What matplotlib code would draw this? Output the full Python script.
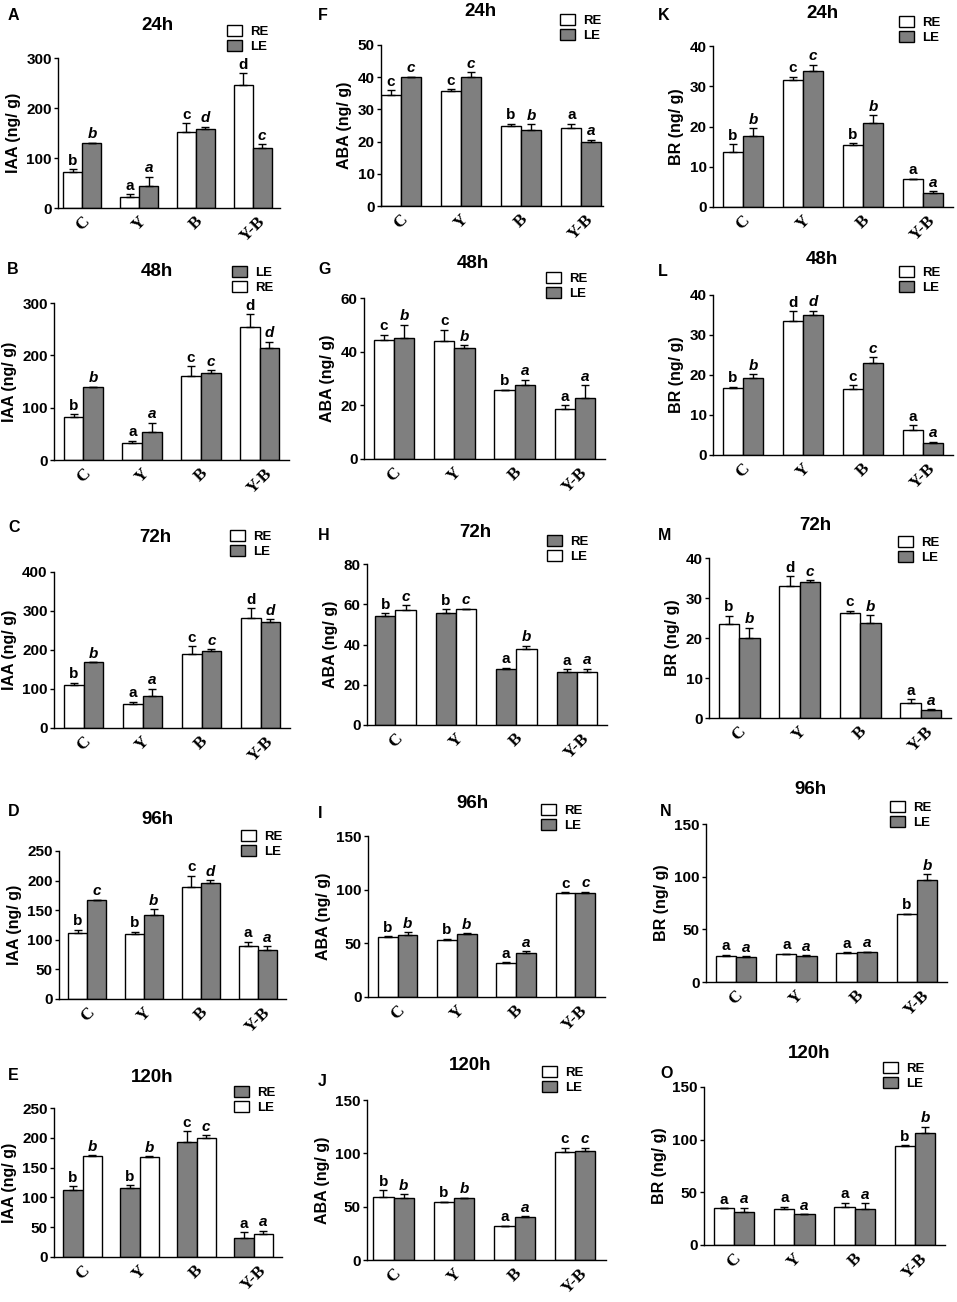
import numpy as np
import matplotlib
matplotlib.use('Agg')
import matplotlib.pyplot as plt

plt.rcParams['font.family'] = ['Liberation Sans', 'DejaVu Sans']
plt.rcParams['font.weight'] = 'bold'

# ---- data (rows: 24h, 48h, 72h, 96h, 120h ; cols: C, Y, B, Y-B)
groups = ['C', 'Y', 'B', 'Y-B']
times = ['24h', '48h', '72h', '96h', '120h']

iaa_re = [[73, 23, 153, 247], [83, 32, 161, 255], [110, 61, 191, 283], [111, 110, 190, 89], [113, 116, 193, 32]]
iaa_re_err = [[5, 5, 17, 23], [5, 5, 18, 24], [6, 6, 18, 24], [6, 4, 18, 8], [6, 4, 18, 10]]
iaa_le = [[130, 45, 159, 121], [139, 54, 167, 214], [168, 82, 197, 273], [167, 142, 196, 83], [170, 168, 200, 39]]
iaa_le_err = [[1, 18, 4, 7], [1, 17, 5, 12], [1, 19, 5, 6], [1, 10, 5, 6], [1, 1, 4, 5]]
iaa_re_let = [['b', 'a', 'c', 'd'], ['b', 'a', 'c', 'd'], ['b', 'a', 'c', 'd'], ['b', 'b', 'c', 'a'], ['b', 'b', 'c', 'a']]
iaa_le_let = [['b', 'a', 'd', 'c'], ['b', 'a', 'c', 'd'], ['b', 'a', 'c', 'd'], ['c', 'b', 'd', 'a'], ['b', 'b', 'c', 'a']]

aba_re = [[34.4, 35.7, 24.9, 24.1], [44.5, 44.1, 25.6, 18.7], [54.1, 55.8, 27.7, 26.3], [55.5, 53.3, 31.3, 97], [59.4, 54.1, 31.9, 101.6]]
aba_re_err = [[1.6, 0.5, 0.7, 1.5], [1.8, 4.1, 0.2, 1.3], [1.4, 1.8, 0.8, 1.3], [1.2, 1.2, 1.2, 0.6], [6.2, 0.6, 0.3, 3.7]]
aba_le = [[40, 40.2, 23.7, 19.8], [45.1, 41.4, 27.5, 22.9], [57.1, 57.5, 37.6, 26.5], [58, 58.6, 41.2, 97], [58.4, 57.8, 40.3, 101.9]]
aba_le_err = [[0.2, 1.4, 1.8, 0.8], [5, 0.9, 2.1, 4.6], [2.5, 0.2, 1.8, 1.5], [2.4, 0.9, 1.3, 1.2], [3.5, 0.5, 0.5, 3.4]]
aba_re_let = [['c', 'c', 'b', 'a'], ['c', 'c', 'b', 'a'], ['b', 'b', 'a', 'a'], ['b', 'b', 'a', 'c'], ['b', 'b', 'a', 'c']]
aba_le_let = [['c', 'c', 'b', 'a'], ['b', 'b', 'a', 'a'], ['c', 'c', 'b', 'a'], ['b', 'b', 'a', 'c'], ['b', 'b', 'a', 'c']]

br_re = [[13.6, 31.5, 15.3, 6.9], [16.7, 33.6, 16.4, 6.25], [23.6, 32.9, 26.3, 3.7], [24.6, 26.5, 27.8, 64.4], [34.7, 34.1, 36, 93.8]]
br_re_err = [[2, 0.9, 0.6, 0.1], [0.4, 2.4, 1, 1.2], [2, 2.5, 0.5, 1], [1.3, 0.5, 0.3, 0.6], [0.5, 2.2, 4.1, 1.2]]
br_le = [[17.7, 33.9, 20.8, 3.5], [19.2, 35.1, 22.9, 3], [20.1, 33.9, 23.7, 2], [23.7, 24.9, 28.1, 97.3], [31.6, 29.1, 34.4, 106.7]]
br_le_err = [[1.9, 1.5, 2, 0.5], [1, 1, 1.5, 0.3], [2.5, 0.5, 2, 0.2], [0.6, 0.3, 0.6, 5], [3.8, 0.3, 5.1, 5.7]]
br_re_let = [['b', 'c', 'b', 'a'], ['b', 'd', 'c', 'a'], ['b', 'd', 'c', 'a'], ['a', 'a', 'a', 'b'], ['a', 'a', 'a', 'b']]
br_le_let = [['b', 'c', 'b', 'a'], ['b', 'd', 'c', 'a'], ['b', 'c', 'b', 'a'], ['a', 'a', 'a', 'b'], ['a', 'a', 'a', 'b']]

ylabels = ['IAA (ng/ g)', 'ABA (ng/ g)', 'BR (ng/ g)']
panel_letters = ['ABCDE', 'FGHIJ', 'KLMNO']

# ---- layout (pixels in a 957x1302 figure)
W, H = 957, 1302
WHITE = 'white'
GRAY = '#7f7f7f'

# axes rect: left x, right x, top tick y, zero y
rects = {
    'A': (58, 280, 58, 208), 'B': (54, 289, 303, 460), 'C': (54, 290, 572, 728),
    'D': (59, 286, 851, 999), 'E': (54, 282, 1108, 1257),
    'F': (381, 603, 45, 206), 'G': (364, 605, 298, 459), 'H': (367, 607, 564, 725),
    'I': (368, 605, 836, 997), 'J': (367, 606, 1100, 1260),
    'K': (713, 953, 46, 207), 'L': (713, 953, 295, 455), 'M': (709, 951, 558, 718),
    'N': (706, 947, 824, 982), 'O': (704, 945, 1087, 1245),
}
xlims = {'A': (-0.43, 3.48), 'F': (-0.33, 3.36), 'H': (-0.47, 3.5), 'J': (-0.44, 3.51)}
ymax = {'A': 300, 'B': 300, 'C': 400, 'D': 250, 'E': 250,
        'F': 50, 'G': 60, 'H': 80, 'I': 150, 'J': 150,
        'K': 40, 'L': 40, 'M': 40, 'N': 150, 'O': 150}
ystep = {'A': 100, 'B': 100, 'C': 100, 'D': 50, 'E': 50,
         'F': 10, 'G': 20, 'H': 20, 'I': 50, 'J': 50,
         'K': 10, 'L': 10, 'M': 10, 'N': 50, 'O': 50}
titles_xy = {'A': (157, 25), 'B': (157, 272), 'C': (155, 538), 'D': (157, 819), 'E': (152, 1077),
             'F': (480, 12), 'G': (473, 263), 'H': (475, 532), 'I': (472, 804), 'J': (470, 1065),
             'K': (822, 13), 'L': (822, 260), 'M': (815, 525), 'N': (810, 790), 'O': (809, 1054)}
letters_xy = {'A': (8, 15), 'B': (7, 270), 'C': (8, 527), 'D': (8, 812), 'E': (8, 1075),
              'F': (318, 16), 'G': (318, 270), 'H': (318, 535), 'I': (318, 813), 'J': (318, 1082),
              'K': (658, 16), 'L': (658, 272), 'M': (658, 535), 'N': (660, 812), 'O': (660, 1073)}
legend_xy = {'A': (227, 25), 'B': (232, 266), 'C': (230, 530), 'D': (241, 830), 'E': (234, 1086),
             'F': (560, 14), 'G': (546, 272), 'H': (547, 535), 'I': (541, 804), 'J': (542, 1066),
             'K': (899, 16), 'L': (899, 266), 'M': (898, 536), 'N': (890, 801), 'O': (883, 1062)}
swapped = {'E', 'H'}      # RE gray / LE white
le_first = {'B'}          # legend lists LE first


def fx(px):
    return px / W


def fy(py):
    return 1 - py / H


def draw_panel(ax, key, re, re_err, le, le_err, re_let, le_let, ylabel):
    x = np.arange(len(groups))
    w = 0.335
    c_re, c_le = (GRAY, WHITE) if key in swapped else (WHITE, GRAY)
    b_re = ax.bar(x - w / 2, re, w, color=c_re, edgecolor='black', linewidth=1, label='RE', zorder=2)
    b_le = ax.bar(x + w / 2, le, w, color=c_le, edgecolor='black', linewidth=1, label='LE', zorder=2)
    ax.errorbar(x - w / 2, re, yerr=[np.zeros(4), re_err], fmt='none', ecolor='black',
                elinewidth=1, capsize=3, capthick=1, zorder=3)
    ax.errorbar(x + w / 2, le, yerr=[np.zeros(4), le_err], fmt='none', ecolor='black',
                elinewidth=1, capsize=3, capthick=1, zorder=3)
    for i in range(4):
        ax.annotate(re_let[i], (x[i] - w / 2, re[i] + re_err[i]), xytext=(0, 1),
                    textcoords='offset points', ha='center', va='bottom',
                    fontsize=11, fontweight='bold', annotation_clip=False)
        ax.annotate(le_let[i], (x[i] + w / 2, le[i] + le_err[i]), xytext=(0, 1),
                    textcoords='offset points', ha='center', va='bottom',
                    fontsize=11, fontweight='bold', fontstyle='italic', annotation_clip=False)

    ax.set_xlim(*xlims.get(key, (-0.5, 3.5)))
    ax.set_ylim(0, ymax[key])
    ax.set_yticks(np.arange(0, ymax[key] + 0.1, ystep[key]))
    ax.set_xticks(x)
    ax.set_xticklabels(groups, rotation=45, ha='center', fontsize=12.5,
                       fontfamily='Liberation Serif', fontweight='bold')
    ax.tick_params(axis='x', length=0, pad=4)
    ax.tick_params(axis='y', direction='out', length=3, width=1, labelsize=11, pad=1.5)
    for s in ['top', 'right']:
        ax.spines[s].set_visible(False)
    for s in ['left', 'bottom']:
        ax.spines[s].set_linewidth(1)
    ax.set_ylabel(ylabel, fontsize=11.5, fontweight='bold', labelpad=4)

    handles, labels = [b_re, b_le], ['RE', 'LE']
    if key in le_first:
        handles, labels = [b_le, b_re], ['LE', 'RE']
    lx, ly = legend_xy[key]
    ax.legend(handles, labels, loc='upper left', bbox_to_anchor=(fx(lx), fy(ly)),
              bbox_transform=ax.figure.transFigure, frameon=False, borderpad=0,
              borderaxespad=0, handlelength=1.15, handleheight=0.85, handletextpad=0.6,
              labelspacing=0.2, prop={'size': 9.5, 'weight': 'bold'})


fig = plt.figure(figsize=(W / 100, H / 100), dpi=100)

datasets = [
    (iaa_re, iaa_re_err, iaa_le, iaa_le_err, iaa_re_let, iaa_le_let),
    (aba_re, aba_re_err, aba_le, aba_le_err, aba_re_let, aba_le_let),
    (br_re, br_re_err, br_le, br_le_err, br_re_let, br_le_let),
]

for col in range(3):
    re, re_err, le, le_err, re_let, le_let = datasets[col]
    for row in range(5):
        key = panel_letters[col][row]
        l, r, t, b = rects[key]
        ax = fig.add_axes([fx(l), fy(b), (r - l) / W, (b - t) / H])
        draw_panel(ax, key, re[row], re_err[row], le[row], le_err[row],
                   re_let[row], le_let[row], ylabels[col])
        tx, ty = titles_xy[key]
        fig.text(fx(tx), fy(ty), times[row], ha='center', va='center',
                 fontsize=13.5, fontweight='bold')
        px, py = letters_xy[key]
        fig.text(fx(px), fy(py), key, ha='left', va='center', fontsize=11.5, fontweight='bold')

fig.savefig('out.png', dpi=100)
